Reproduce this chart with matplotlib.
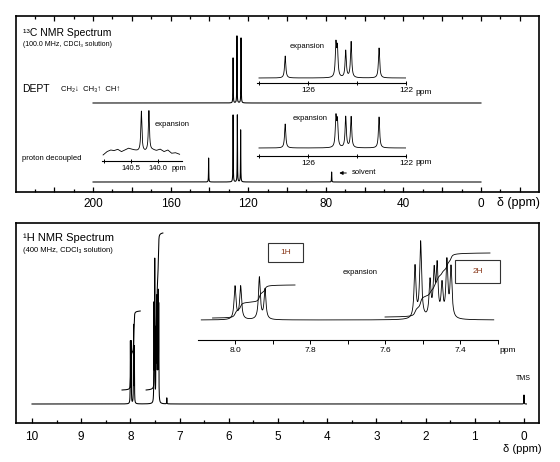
import numpy as np
import matplotlib
matplotlib.use('Agg')
import matplotlib.pyplot as plt
from matplotlib.ticker import FixedLocator, FixedFormatter
from matplotlib.patches import Rectangle

W, H = 560, 462
plt.rcParams['font.family'] = ['Liberation Sans', 'DejaVu Sans']

# ------------------------------------------------------------------ data
c13_major_ticks = list(range(-20, 240, 20))
c13_minor_ticks = list(range(-20, 240, 10))
c13_tick_labels = [200, 160, 120, 80, 40, 0]

dept_peaks_ppm = [127.8, 125.8, 123.7]
dept_peaks_h = [45, 67, 65]

decoup_peaks_ppm = [140.4, 127.8, 125.6, 123.9, 77.0]
decoup_peaks_h = [24, 67, 67, 52, 10]

exp13_ppm = [126.93, 124.86, 124.80, 124.46, 124.24, 123.10]
exp13_dept_h = [22, 32, 28, 27, 36, 30]
exp13_dec_h = [24, 29, 25, 31, 31, 31]
exp13_ticks = [128, 126, 124, 122]
exp13_labels = ['', '126', '', '122']

exp140_ppm = [140.31, 140.17]
exp140_h = [40, 40]
exp140_base_ppm = [141.02, 140.95, 140.88, 140.82, 140.75, 140.68, 140.61, 140.55, 140.45,
                   140.38, 140.24, 140.10, 140.03, 139.96, 139.89, 139.82, 139.75, 139.68, 139.60]
exp140_base = [-2, 1.3, 3, 2.3, 3.7, 1.3, 3, 4.7, 3, 2, 1.3, 3, 2.3, 3.7, 1.3, 3, -0.3, 0.3, -1.3]
exp140_ticks = [141.0, 140.5, 140.0]
exp140_labels = ['', '140.5', '140.0']

h1_major_ticks = list(range(0, 11))
h1_minor_ticks = [i + 0.5 for i in range(0, 10)]

h1_g1_ppm = [8.000, 7.985, 7.935, 7.920]
h1_g1_h = [33, 33, 42, 30]
h1_g2_ppm = [7.520, 7.505, 7.480, 7.469, 7.461, 7.448, 7.435, 7.424]
h1_g2_h = [52, 76, 36, 44, 50, 32, 56, 50]
h1_small_ppm = [7.26, 0.0]
h1_small_h = [6, 9]
h1_integrals = ['1H', '2H']

inset_ticks = [8.1, 8.0, 7.9, 7.8, 7.7, 7.6, 7.5, 7.4, 7.3]
inset_labels = ['', '8.0', '', '7.8', '', '7.6', '', '7.4', '']

# ------------------------------------------------------------------ helpers
fig = plt.figure(figsize=(5.6, 4.62), dpi=100)
fig.patch.set_facecolor('white')


def px_axes(x0, y0, x1, y1, frame=False):
    ax = fig.add_axes([x0 / W, 1 - y1 / H, (x1 - x0) / W, (y1 - y0) / H])
    ax.set_ylim(y1, y0)
    ax.patch.set_alpha(0)
    if not frame:
        for s in ax.spines.values():
            s.set_visible(False)
    ax.set_yticks([])
    return ax


def lorentz(grid, centers, heights, hw):
    y = np.zeros_like(grid)
    for c, h in zip(centers, heights):
        y += h * hw ** 2 / ((grid - c) ** 2 + hw ** 2)
    return y


def ptext(x, y, s, **kw):
    kw.setdefault('va', 'center')
    fig.text(x / W, 1 - y / H, s, **kw)


def cumint(grid, spec, lo, hi):
    m = (grid <= hi) & (grid >= lo)
    c = np.cumsum(spec[m])
    return grid[m], c / c[-1]


LW = 0.75
K = 'black'

# ------------------------------------------------------------------ 13C panel
ax1 = px_axes(16, 16, 539, 192, frame=True)
ax1.set_xlim(239.7, -29.9)
for s in ax1.spines.values():
    s.set_linewidth(1.2)
ax1.xaxis.set_major_locator(FixedLocator(c13_major_ticks))
ax1.xaxis.set_major_formatter(FixedFormatter(
    [str(t) if t in c13_tick_labels else '' for t in c13_major_ticks]))
ax1.xaxis.set_minor_locator(FixedLocator([t for t in c13_minor_ticks if t % 20]))
ax1.tick_params(axis='x', which='both', direction='in', top=True, bottom=True,
                labelsize=8.5, pad=4, width=0.9)
ax1.tick_params(axis='x', which='major', length=3.6)
ax1.tick_params(axis='x', which='minor', length=2.2)

g13 = np.linspace(200, 0, 40001)
ax1.plot(g13, 103 - lorentz(g13, dept_peaks_ppm, dept_peaks_h, 0.08), color=K, lw=LW)
ax1.plot(g13, 182 - lorentz(g13, decoup_peaks_ppm, decoup_peaks_h, 0.08), color=K, lw=LW)

ax1.annotate('', xy=(74.5, 173), xytext=(68, 173),
             arrowprops=dict(arrowstyle='-|>', lw=0.7, color=K, mutation_scale=5))
ax1.text(66.5, 173, 'solvent', fontsize=5.5, va='center', ha='left')

ptext(23, 33, '¹³C NMR Spectrum', fontsize=7.5)
ptext(23, 45, '(100.0 MHz, CDCl₃ solution)', fontsize=5)
ptext(22, 89, 'DEPT', fontsize=7.5)
ptext(61, 89, 'CH₂↓  CH₃↑  CH↑', fontsize=5.5)
ptext(22, 158, 'proton decoupled', fontsize=5.5)
ptext(497, 203, 'δ (ppm)', fontsize=9)


def exp13_axes(x0, y0, y1, base, heights, label_y):
    ax = px_axes(x0, y0, 406, y1)
    ax.set_xlim(128.08, 122.0)
    ax.spines['bottom'].set_visible(True)
    ax.spines['bottom'].set_linewidth(0.8)
    ax.xaxis.set_major_locator(FixedLocator(exp13_ticks))
    ax.xaxis.set_major_formatter(FixedFormatter(exp13_labels))
    ax.tick_params(axis='x', direction='inout', length=3, width=0.7, labelsize=6, pad=1.5)
    g = np.linspace(128.0, 122.0, 6001)
    ax.plot(g, base - lorentz(g, exp13_ppm, heights, 0.03), color=K, lw=0.6)
    ptext(424, label_y, 'ppm', fontsize=6, ha='center')
    return ax


exp13_axes(257, 30, 83, 78, exp13_dept_h, 92)
exp13_axes(257, 100, 156, 148, exp13_dec_h, 162)
ptext(307, 47, 'expansion', fontsize=5.5, ha='center')
ptext(310, 119, 'expansion', fontsize=5.5, ha='center')

ax140 = px_axes(102, 100, 182, 161)
ax140.set_xlim(141.04, 139.556)
ax140.spines['bottom'].set_visible(True)
ax140.spines['bottom'].set_linewidth(0.8)
ax140.xaxis.set_major_locator(FixedLocator(exp140_ticks))
ax140.xaxis.set_major_formatter(FixedFormatter(exp140_labels))
ax140.tick_params(axis='x', direction='inout', length=3, width=0.7, labelsize=5.5, pad=1.5)
g140 = np.linspace(141.02, 139.60, 3001)
base140 = np.interp(g140[::-1], exp140_base_ppm[::-1], exp140_base[::-1])[::-1]
ax140.plot(g140, 153 - base140 - lorentz(g140, exp140_ppm, exp140_h, 0.012), color=K, lw=0.6)
ptext(179, 168, 'ppm', fontsize=5.5, ha='center')
ptext(172, 124, 'expansion', fontsize=5.5, ha='center')

# ------------------------------------------------------------------ 1H panel
ax2 = px_axes(16, 223, 539, 423, frame=True)
ax2.set_xlim(10.325, -0.305)
for s in ax2.spines.values():
    s.set_linewidth(1.2)
ax2.xaxis.set_major_locator(FixedLocator(h1_major_ticks))
ax2.xaxis.set_minor_locator(FixedLocator(h1_minor_ticks))
ax2.tick_params(axis='x', which='both', direction='in', top=False, bottom=True,
                labelsize=8.5, pad=6, width=0.9)
ax2.tick_params(axis='x', which='major', length=3.6)
ax2.tick_params(axis='x', which='minor', length=2.2)

h_ppm = h1_g1_ppm + h1_g2_ppm
h_h = h1_g1_h + h1_g2_h
gh = np.linspace(10.0, -0.05, 100501)
spec_main = 1.84 * lorentz(gh, h_ppm, h_h, 0.003) + lorentz(gh, h1_small_ppm, h1_small_h, 0.003)
ax2.plot(gh, 404 - spec_main, color=K, lw=LW)
xi, ci = cumint(gh, spec_main, 7.80, 8.17)
ax2.plot(xi, 390 - 79 * ci, color=K, lw=LW)
xi, ci = cumint(gh, spec_main, 7.34, 7.68)
ax2.plot(xi, 390 - 157 * ci, color=K, lw=LW)

ptext(23, 238, '¹H NMR Spectrum', fontsize=8)
ptext(23, 251, '(400 MHz, CDCl₃ solution)', fontsize=5.5)
ptext(523, 379, 'TMS', fontsize=5, ha='center')
ptext(522, 449, 'δ (ppm)', fontsize=8, ha='center')

ax3 = px_axes(198, 230, 498, 340)
ax3.set_xlim(8.0987, 7.2987)
ax3.spines['bottom'].set_visible(True)
ax3.spines['bottom'].set_linewidth(0.8)
ax3.xaxis.set_major_locator(FixedLocator(inset_ticks))
ax3.xaxis.set_major_formatter(FixedFormatter(inset_labels))
ax3.tick_params(axis='x', direction='out', length=3, width=0.7, labelsize=6, pad=2)
gi = np.linspace(8.09, 7.31, 15601)
spec_in = lorentz(gi, h_ppm, h_h, 0.003)
ax3.plot(gi, 320 - spec_in, color=K, lw=0.6)
xi, ci = cumint(gi, spec_in, 7.84, 8.06)
ax3.plot(xi, 318 - 33 * ci, color=K, lw=0.6)
xi, ci = cumint(gi, spec_in, 7.32, 7.60)
ax3.plot(xi, 317 - 64 * ci, color=K, lw=0.6)
ptext(508, 350, 'ppm', fontsize=6, ha='center')
ptext(360, 272, 'expansion', fontsize=5.5, ha='center')

for (x0, y0, x1, y1), lab in zip([(268, 243, 303, 262), (455, 260, 500, 283)], h1_integrals):
    fig.add_artist(Rectangle((x0 / W, 1 - y1 / H), (x1 - x0) / W, (y1 - y0) / H,
                             transform=fig.transFigure, fill=False, lw=0.8, ec='#333333'))
    ptext((x0 + x1) / 2, (y0 + y1) / 2, lab, fontsize=6, ha='center', color='#8a3a1c')

fig.savefig('out.png', dpi=100, facecolor='white')
